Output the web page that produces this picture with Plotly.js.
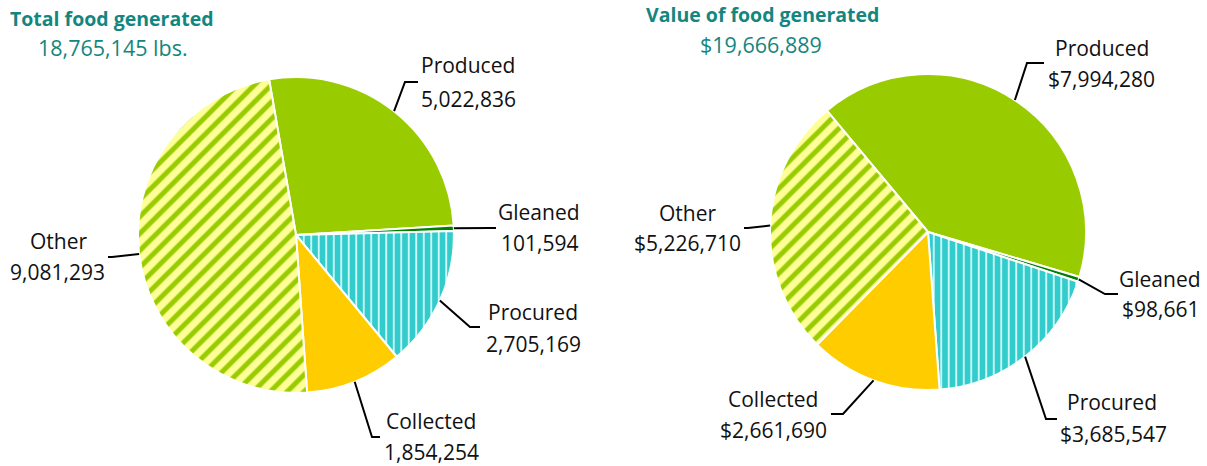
<!DOCTYPE html>
<html>
<head>
<meta charset="utf-8">
<script src="https://cdn.plot.ly/plotly-3.0.1.min.js"></script>
<style>html,body{margin:0;padding:0;background:#fff;}#chart{width:1207px;height:466px;}</style>
</head>
<body>
<div id="chart"></div>
<script>
// ---- data ----
const categories = ["Produced", "Gleaned", "Procured", "Collected", "Other"];
const poundsValues = [5022836, 101594, 2705169, 1854254, 9081293];
const dollarValues = [7994280, 98661, 3685547, 2661690, 5226710];
const poundsTotalLabel = "18,765,145 lbs.";
const dollarTotalLabel = "$19,666,889";
const poundsTitle = "Total food generated";
const dollarTitle = "Value of food generated";

// ---- styling / layout ----
const W = 1207, H = 466;
const FONT = "Open Sans, Lato, sans-serif";
const TEAL = "#138680";
const colors = ["#99CC00", "#008000", "#33CCCC", "#FFCC00", "#FFFF99"];
const pattern = {
  shape: ["", "", "|", "", "/"],
  bgcolor: ["#99CC00", "#008000", "#33CCCC", "#FFCC00", "#FFFF99"],
  fgcolor: ["#99CC00", "#008000", "#E4FFFF", "#FFCC00", "#99CC00"],
  size: [8, 8, 7.5, 8, 12],
  solidity: [0.3, 0.3, 0.22, 0.3, 0.42],
  fillmode: "replace"
};

const pies = [
  {values: poundsValues, fmt: v => v.toLocaleString("en-US"), cx: 296, cy: 235, r: 158, rotation: -9.8,
   labels: [ // name centre, value centre, elbow, end  (pixels)
     {n:[468,65], v:[468,99], e:[405,82], t:[418,82]},
     {n:[539,212], v:[539,243], e:[490,228], t:[496,228]},
     {n:[533,312], v:[533,344], e:[470,327], t:[480,327]},
     {n:[431,421], v:[431,452], e:[372,437], t:[380,437]},
     {n:[58,241], v:[57,272], e:[112,257], t:[108,257]}
   ]},
  {values: dollarValues, fmt: v => "$" + v.toLocaleString("en-US"), cx: 928, cy: 232, r: 158, rotation: -39.8,
   labels: [
     {n:[1102,48], v:[1101,79], e:[1027,63], t:[1044,63]},
     {n:[1160,279], v:[1160,309], e:[1105,294], t:[1118,294]},
     {n:[1112,402], v:[1113,434], e:[1046,419], t:[1057,419]},
     {n:[773,399], v:[773,430], e:[843,414], t:[831,414]},
     {n:[687,213], v:[687,243], e:[748,228], t:[744,228]}
   ]}
];

const px = x => x / W;
const py = y => 1 - y / H;

const traces = [];
const annotations = [];
const shapes = [];

pies.forEach(p => {
  traces.push({
    type: "pie",
    labels: categories,
    values: p.values,
    sort: false,
    direction: "clockwise",
    rotation: p.rotation,
    textinfo: "none",
    hoverinfo: "label+value",
    showlegend: false,
    marker: {colors: colors, line: {color: "#ffffff", width: 2}, pattern: pattern},
    domain: {x: [px(p.cx - p.r), px(p.cx + p.r)], y: [py(p.cy + p.r), py(p.cy - p.r)]}
  });
  const total = p.values.reduce((a, b) => a + b, 0);
  let acc = 0;
  p.values.forEach((v, i) => {
    const mid = (p.rotation + (acc + v / 2) / total * 360) * Math.PI / 180;
    acc += v;
    const sx = p.cx + p.r * Math.sin(mid);
    const sy = p.cy - p.r * Math.cos(mid);
    const L = p.labels[i];
    shapes.push({
      type: "path", xref: "paper", yref: "paper",
      path: `M${px(sx)},${py(sy)} L${px(L.e[0])},${py(L.e[1])} L${px(L.t[0])},${py(L.t[1])}`,
      line: {color: "#000000", width: 2}
    });
    annotations.push({xref: "paper", yref: "paper", x: px(L.n[0]), y: py(L.n[1]), xanchor: "center", yanchor: "middle",
      text: categories[i], showarrow: false, font: {family: FONT, size: 21, color: "#111111"}});
    annotations.push({xref: "paper", yref: "paper", x: px(L.v[0]), y: py(L.v[1]), xanchor: "center", yanchor: "middle",
      text: p.fmt(v), showarrow: false, font: {family: FONT, size: 21, color: "#111111"}});
  });
});

// titles
annotations.push({xref: "paper", yref: "paper", x: px(112), y: py(18), xanchor: "center", yanchor: "middle",
  text: "<b>" + poundsTitle + "</b>", showarrow: false, font: {family: FONT, size: 19.5, color: TEAL}});
annotations.push({xref: "paper", yref: "paper", x: px(113), y: py(48), xanchor: "center", yanchor: "middle",
  text: poundsTotalLabel, showarrow: false, font: {family: FONT, size: 21.5, color: TEAL}});
annotations.push({xref: "paper", yref: "paper", x: px(762), y: py(14), xanchor: "center", yanchor: "middle",
  text: "<b>" + dollarTitle + "</b>", showarrow: false, font: {family: FONT, size: 19.5, color: TEAL}});
annotations.push({xref: "paper", yref: "paper", x: px(761), y: py(45), xanchor: "center", yanchor: "middle",
  text: dollarTotalLabel, showarrow: false, font: {family: FONT, size: 21.5, color: TEAL}});

const layout = {
  width: W, height: H,
  margin: {l: 0, r: 0, t: 0, b: 0},
  paper_bgcolor: "#ffffff",
  showlegend: false,
  annotations: annotations,
  shapes: shapes,
  font: {family: FONT}
};

Plotly.newPlot("chart", traces, layout, {displayModeBar: false, staticPlot: true});
</script>
</body>
</html>
